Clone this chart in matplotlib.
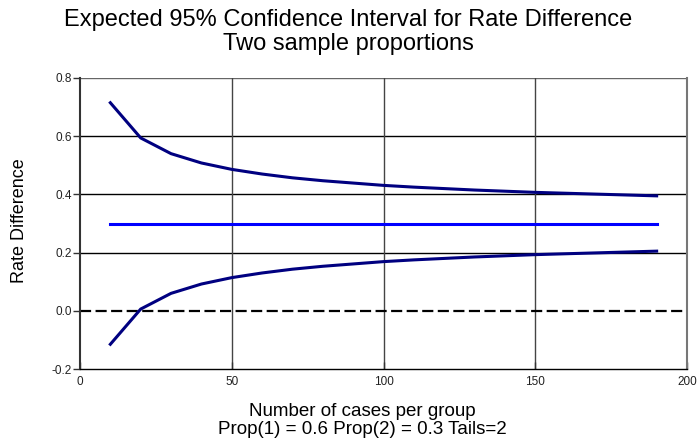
import matplotlib
matplotlib.use("Agg")
import matplotlib.pyplot as plt

plt.rcParams['font.family'] = ['Liberation Sans', 'DejaVu Sans']

n_cases = [10, 20, 30, 40, 50, 60, 70, 80, 90, 100, 110, 120, 130, 140, 150, 160, 170, 180, 190]
upper = [0.715, 0.594, 0.540, 0.508, 0.486, 0.470, 0.457, 0.447, 0.439, 0.431,
         0.425, 0.420, 0.415, 0.411, 0.407, 0.404, 0.401, 0.398, 0.395]
lower = [-0.115, 0.006, 0.060, 0.092, 0.114, 0.130, 0.143, 0.153, 0.161, 0.169,
         0.175, 0.180, 0.185, 0.189, 0.193, 0.196, 0.199, 0.202, 0.205]
diff = [0.3] * len(n_cases)

xticks = [0, 50, 100, 150, 200]
yticks = [-0.2, 0.0, 0.2, 0.4, 0.6, 0.8]

fig = plt.figure(figsize=(6.97, 4.45), dpi=100)
ax = fig.add_axes([80/697, 1-369/445, 607/697, 291/445])

ax.set_xlim(0, 200)
ax.set_ylim(-0.2, 0.8)
ax.set_xticks(xticks)
ax.set_yticks(yticks)
ax.set_xticklabels([str(t) for t in xticks])
ax.set_yticklabels([f"{t:.1f}" for t in yticks])

for y in yticks[2:]:
    ax.axhline(y, color='black' if y < 0.8 else '#666666', lw=1.0, zorder=1)
for x in xticks[1:-1]:
    ax.axvline(x, color='#444444', lw=1.0, zorder=1)
ax.axhline(0.0, color='black', lw=1.6, ls=(0, (5, 2)), zorder=1)

ax.plot(n_cases, upper, color='#000080', lw=2.2, zorder=3)
ax.plot(n_cases, lower, color='#000080', lw=2.2, zorder=3)
ax.plot(n_cases, diff, color='#0000ff', lw=2.2, zorder=3)

ax.spines['top'].set_visible(False)
ax.spines['left'].set_color('#333333')
ax.spines['left'].set_linewidth(1.5)
ax.spines['right'].set_color('#777777')
ax.spines['right'].set_linewidth(1.5)
ax.spines['bottom'].set_color('black')
ax.spines['bottom'].set_linewidth(1.0)

ax.tick_params(axis='y', direction='out', length=5, width=1, colors='#333333', labelsize=8.5, pad=1)
ax.tick_params(axis='x', direction='in', length=5, width=1, colors='#333333', labelsize=8.5, pad=5)
for lab in ax.get_xticklabels() + ax.get_yticklabels():
    lab.set_color('#222222')

fig.text(0.5, 1-20/445, "Expected 95% Confidence Interval for Rate Difference", ha='center', va='center', fontsize=17)
fig.text(0.5, 1-44/445, "Two sample proportions", ha='center', va='center', fontsize=17)

fig.text(20/697, 1-221/445, "Rate Difference", rotation=90, ha='center', va='center', fontsize=13)
fig.text(362/697, 1-412/445, "Number of cases per group", ha='center', va='center', fontsize=13.5)
fig.text(362/697, 1-429/445, "Prop(1) = 0.6 Prop(2) = 0.3 Tails=2", ha='center', va='center', fontsize=13.5)

fig.savefig("out.png", dpi=100)
